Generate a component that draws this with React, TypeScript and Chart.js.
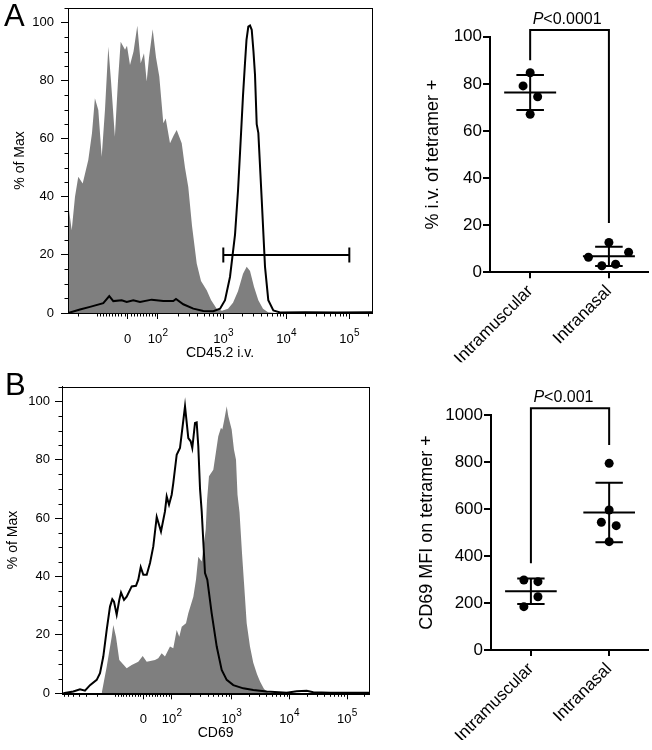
import React, { useEffect, useRef } from "react";
import { Chart, registerables } from "chart.js";

Chart.register(...registerables);

const FONT = "'Liberation Sans', Arial, Helvetica, sans-serif";
const W = 652;
const H = 750;
const GRAY = "#7f7f7f";

// ---------------- Histograms (x = biexponential display position, decades; y = % of Max) ----------------
const HIST_TICK_BASES = ["0", "10", "10", "10", "10"];
const HIST_TICK_EXPONENTS = ["", "2", "3", "4", "5"];
const HIST_Y_TICKS = [0, 20, 40, 60, 80, 100];

// Panel A : CD45.2 i.v.
const A_TICK_POS = [1.48, 1.96, 3, 4, 5];
const A_GRAY_T = [0.535, 0.594, 0.646, 0.698, 0.768, 0.857, 0.916, 0.962, 1.016, 1.07, 1.122, 1.175, 1.217, 1.279, 1.329, 1.371, 1.44, 1.471, 1.519, 1.575, 1.635, 1.689, 1.741, 1.784, 1.821, 1.879, 1.932, 1.984, 2.048, 2.086, 2.154, 2.21, 2.26, 2.34, 2.392, 2.444, 2.503, 2.578, 2.646, 2.737, 2.805, 2.895, 2.979, 3.075, 3.154, 3.233, 3.313, 3.371, 3.424, 3.487, 3.556, 3.63, 3.71, 3.821, 5.36];
const A_GRAY_Y = [38, 28.5, 40, 46.9, 44.6, 52.7, 62, 73.9, 69.9, 53.8, 70, 91.7, 80, 60.7, 80, 93.4, 90.6, 92, 85.4, 90, 98.9, 86, 89.4, 79.7, 88, 97.7, 88, 81.4, 65.3, 67, 58.4, 61, 63, 58.4, 50, 43.4, 30, 17, 11, 7.8, 4.5, 1.5, 0.8, 1.5, 3.5, 7.5, 13.5, 15.9, 14.5, 9, 4.4, 1.5, 0.3, 0, 0];
const A_LINE_T = [0.54, 0.725, 0.884, 1.095, 1.19, 1.254, 1.387, 1.467, 1.571, 1.678, 1.863, 2.048, 2.206, 2.249, 2.365, 2.524, 2.683, 2.841, 2.948, 3.027, 3.106, 3.186, 3.233, 3.265, 3.289, 3.313, 3.344, 3.368, 3.397, 3.424, 3.451, 3.479, 3.503, 3.53, 3.556, 3.61, 3.662, 3.714, 3.794, 3.9, 4.3, 4.8, 5.36];
const A_LINE_Y = [0, 1.2, 2.1, 3.4, 5.8, 4.1, 4.4, 3.8, 4.4, 3.8, 4.6, 4.1, 4.1, 4.8, 3.0, 1.5, 0.7, 0.6, 1.5, 4.4, 12.4, 27, 42, 55, 65, 75, 86, 94, 98.6, 99, 97.5, 90, 82, 65, 62, 38.9, 15.9, 4.4, 0.9, 0.2, 0.3, 0.2, 0.3];
const A_GATE_RANGE = [3, 5];
const A_GATE_LEVEL = 20;

// Panel B : CD69
const B_TICK_POS = [1.473, 1.964, 3, 4, 5];
const B_GRAY_T = [0.752, 0.839, 0.926, 0.953, 1.0, 1.057, 1.185, 1.272, 1.386, 1.462, 1.532, 1.675, 1.732, 1.791, 1.848, 1.935, 1.992, 2.051, 2.096, 2.138, 2.212, 2.252, 2.339, 2.385, 2.425, 2.484, 2.553, 2.576, 2.61, 2.685, 2.771, 2.818, 2.841, 2.875, 2.917, 2.945, 3.003, 3.043, 3.078, 3.104, 3.139, 3.182, 3.216, 3.263, 3.32, 3.377, 3.442, 3.494, 3.563, 3.632, 3.701, 5.386];
const B_GRAY_Y = [0, 9.1, 19.4, 23.4, 19.4, 11.4, 8.6, 9.7, 10.8, 12.8, 10.8, 11.4, 12, 13.7, 12.6, 16, 15.4, 21.7, 19.4, 22.8, 24, 27.4, 33.1, 38.9, 46.8, 45.1, 56, 66, 74.3, 76.6, 88, 90.9, 90.3, 93.7, 98.3, 94.9, 90.3, 83.4, 80, 68, 62, 48, 38, 24, 16, 10.5, 6.5, 4, 1.5, 0.3, 0, 0];
const B_LINE_T = [0.087, 0.261, 0.377, 0.463, 0.55, 0.666, 0.723, 0.78, 0.839, 0.896, 0.936, 0.965, 1.012, 1.057, 1.087, 1.139, 1.185, 1.272, 1.346, 1.386, 1.428, 1.473, 1.532, 1.589, 1.646, 1.705, 1.745, 1.779, 1.848, 1.878, 1.918, 1.964, 1.992, 2.051, 2.108, 2.195, 2.252, 2.293, 2.321, 2.368, 2.397, 2.425, 2.455, 2.484, 2.541, 2.581, 2.657, 2.744, 2.83, 2.917, 3.031, 3.204, 3.377, 3.61, 3.956, 4.129, 4.302, 4.416, 4.706, 5.386];
const B_LINE_Y = [0, 0.6, 1.4, 0.9, 2.8, 4.6, 6.9, 12.6, 21.7, 29.7, 32.2, 31.4, 26.9, 32, 34.5, 32, 33.1, 36.6, 36.8, 38.9, 43.2, 40.6, 40.6, 44.6, 50.3, 60.4, 57.7, 55.4, 62.3, 67.4, 64.6, 68, 72, 81.7, 84, 98.3, 87.4, 86.3, 84, 92.6, 92.8, 84.6, 70, 62.3, 41.2, 38.9, 27.4, 16, 8, 4.6, 2.8, 1.7, 1.1, 0.6, 0.2, 0.7, 0.9, 0.4, 0.2, 0.2];

// ---------------- Dot plots ----------------
const CATEGORIES = ["Intramuscular", "Intranasal"];
// Panel A : % i.v. of tetramer +
const A_IM = [84.7, 79.1, 74.5, 67.1];
const A_IM_JITTER = [0, -0.09, 0.095, 0];
const A_IN = [12.7, 6.4, 8.5, 2.8, 3.4];
const A_IN_JITTER = [0, -0.26, 0.25, -0.09, 0.085];
const A_DOT_TICKS = [0, 20, 40, 60, 80, 100];
const A_BRACKET = [90, 102.8, 20.9]; // left leg end, bar, right leg end
const A_P = "<0.0001";
// Panel B : CD69 MFI on tetramer +
const B_IM = [297.9, 290.8, 226.8, 184.3];
const B_IM_JITTER = [-0.09, 0.09, 0.09, -0.09];
const B_IN = [794.3, 595.7, 543.4, 529, 460.9];
const B_IN_JITTER = [0, 0, -0.1, 0.09, 0];
const B_DOT_TICKS = [0, 200, 400, 600, 800, 1000];
const B_BRACKET = [369, 1028.5, 872];
const B_P = "<0.001";

// ---------------- helpers ----------------
function histMinorX(tickPos: number[], min: number, max: number) {
  const z = tickPos[0];
  const h = tickPos[1];
  const out: number[] = [];
  for (let k = -9; k <= 9; k++) if (k !== 0) out.push(z + (k * (h - z)) / 10);
  for (let m = 2; m <= 9; m++) out.push(h + (3 - h) * Math.log10(m));
  for (let m = 1; m <= 9; m++) out.push(z - (h - z) - (3 - h) * Math.log10(m));
  for (const d of [3, 4, 5]) for (let m = 2; m <= 9; m++) out.push(d + Math.log10(m));
  return out.filter((t) => t > min + 0.01 && t < max - 0.01);
}
const HIST_Y_MINOR = [5, 10, 15, 25, 30, 35, 45, 50, 55, 65, 70, 75, 85, 90, 95, 105];

function mean(v: number[]) {
  return v.reduce((a, b) => a + b, 0) / v.length;
}
function sd(v: number[]) {
  const m = mean(v);
  return Math.sqrt(v.reduce((a, b) => a + (b - m) * (b - m), 0) / (v.length - 1));
}
const MEAN_HALF = 0.33;
const CAP_HALF = 0.175;
function summarySegments(c: number, vals: number[]) {
  const m = mean(vals);
  const s = sd(vals);
  return [
    { x: c - MEAN_HALF, y: m }, { x: c + MEAN_HALF, y: m }, { x: c, y: null },
    { x: c, y: m - s }, { x: c, y: m + s }, { x: c, y: null },
    { x: c - CAP_HALF, y: m + s }, { x: c + CAP_HALF, y: m + s }, { x: c, y: null },
    { x: c - CAP_HALF, y: m - s }, { x: c + CAP_HALF, y: m - s }, { x: c, y: null },
  ];
}

const HIST_TITLE = 14;
const HIST_TICK = 13;
const HIST_X_AXIS_H = 48.5;

function histConfig(s: any): any {
  const padL = s.yTitleX - (HIST_TITLE * 1.2) / 2;
  const decor = {
    id: "histDecor" + s.letter,
    afterDatasetsDraw(chart: any) {
      const { ctx, chartArea: a, scales } = chart;
      const x = scales.x;
      const y = scales.y;
      ctx.save();
      ctx.strokeStyle = "#000";
      ctx.lineWidth = 1;
      ctx.strokeRect(Math.round(a.left) + 0.5, Math.round(a.top) + 0.5, Math.round(a.right - a.left), Math.round(a.bottom - a.top));
      ctx.beginPath();
      for (const v of HIST_Y_MINOR) {
        const py = Math.round(y.getPixelForValue(v)) + 0.5;
        ctx.moveTo(a.left - 3.5, py);
        ctx.lineTo(a.left, py);
      }
      for (const t of histMinorX(s.tickPos, s.xMin, s.xMax)) {
        const px = Math.round(x.getPixelForValue(t)) + 0.5;
        ctx.moveTo(px, a.bottom);
        ctx.lineTo(px, a.bottom + 3.5);
      }
      ctx.stroke();
      if (s.gate) {
        const gy = y.getPixelForValue(s.gateLevel);
        const x1 = x.getPixelForValue(s.gate[0]);
        const x2 = x.getPixelForValue(s.gate[1]);
        ctx.lineWidth = 2;
        ctx.beginPath();
        ctx.moveTo(x1, gy);
        ctx.lineTo(x2, gy);
        ctx.moveTo(x1, gy - 7.5);
        ctx.lineTo(x1, gy + 7.5);
        ctx.moveTo(x2, gy - 7.5);
        ctx.lineTo(x2, gy + 7.5);
        ctx.stroke();
      }
      // x tick labels with superscript exponents
      ctx.fillStyle = "#000";
      ctx.textAlign = "left";
      ctx.textBaseline = "alphabetic";
      const base = a.bottom + 30;
      s.tickPos.forEach((t: number, i: number) => {
        const px = x.getPixelForValue(t);
        ctx.font = `${HIST_TICK}px ${FONT}`;
        const wb = ctx.measureText(HIST_TICK_BASES[i]).width;
        ctx.font = `10px ${FONT}`;
        const we = HIST_TICK_EXPONENTS[i] ? ctx.measureText(HIST_TICK_EXPONENTS[i]).width : 0;
        const x0 = px - (wb + we) / 2;
        ctx.font = `${HIST_TICK}px ${FONT}`;
        ctx.fillText(HIST_TICK_BASES[i], x0, base);
        if (we) {
          ctx.font = `10px ${FONT}`;
          ctx.fillText(HIST_TICK_EXPONENTS[i], x0 + wb + 0.3, base - 7.5);
        }
      });
      ctx.font = `31px ${FONT}`;
      ctx.fillText(s.letter, s.letterX, s.letterY);
      ctx.restore();
    },
  };
  return {
    type: "line",
    data: {
      datasets: [
        {
          data: s.lineT.map((t: number, i: number) => ({ x: t, y: s.lineY[i] })),
          borderColor: "#000",
          borderWidth: 2,
          pointRadius: 0,
          fill: false,
          tension: 0,
        },
        {
          data: s.grayT.map((t: number, i: number) => ({ x: t, y: s.grayY[i] })),
          borderColor: GRAY,
          borderWidth: 0,
          backgroundColor: GRAY,
          pointRadius: 0,
          fill: "origin",
          tension: 0,
        },
      ],
    },
    options: {
      responsive: false,
      animation: false,
      devicePixelRatio: 1,
      events: [],
      layout: {
        padding: { left: padL, top: s.area.top, right: W - s.area.right, bottom: H - s.area.bottom - HIST_X_AXIS_H },
      },
      plugins: { legend: { display: false }, tooltip: { enabled: false } },
      scales: {
        x: {
          type: "linear",
          min: s.xMin,
          max: s.xMax,
          afterBuildTicks: (sc: any) => {
            sc.ticks = s.tickPos.map((v: number) => ({ value: v }));
          },
          afterFit: (sc: any) => {
            sc.height = HIST_X_AXIS_H;
            sc.paddingLeft = 0;
            sc.paddingRight = 0;
          },
          ticks: {
            display: false,
            autoSkip: false,
            maxRotation: 0,
            minRotation: 0,
          },
          grid: { drawOnChartArea: false, drawTicks: true, tickLength: 6, color: "#000", lineWidth: 1 },
          border: { display: true, color: "#000", width: 1 },
          title: { display: true, text: s.xTitle, color: "#000", font: { family: FONT, size: HIST_TITLE }, padding: 0 },
        },
        y: {
          type: "linear",
          min: 0,
          max: 105,
          afterBuildTicks: (sc: any) => {
            sc.ticks = HIST_Y_TICKS.map((v) => ({ value: v }));
          },
          afterFit: (sc: any) => {
            sc.width = s.area.left - padL;
            sc.paddingTop = 0;
            sc.paddingBottom = 0;
          },
          ticks: { padding: s.yTickPad, color: "#000", font: { family: FONT, size: HIST_TICK } },
          grid: { drawOnChartArea: false, drawTicks: true, tickLength: 7, color: "#000", lineWidth: 1 },
          border: { display: true, color: "#000", width: 1 },
          title: { display: true, text: "% of Max", color: "#000", font: { family: FONT, size: HIST_TITLE }, padding: 0 },
        },
      },
    },
    plugins: [decor],
  };
}

const DOT_TITLE = 18;
const DOT_TICK = 17;
const DOT_X_AXIS_H = 90;

function dotConfig(s: any): any {
  const padL = s.yTitleX - (DOT_TITLE * 1.2) / 2;
  const groups = [s.im, s.inn];
  const jit = [s.imJit, s.inJit];
  const points = groups.flatMap((vals: number[], c: number) => vals.map((v, i) => ({ x: c + jit[c][i], y: v })));
  const summary = groups.flatMap((vals: number[], c: number) => summarySegments(c, vals));
  const bracket = {
    id: "bracket" + s.p,
    afterDatasetsDraw(chart: any) {
      const { ctx, scales } = chart;
      const x = scales.x;
      const y = scales.y;
      const xl = x.getPixelForValue(0);
      const xr = x.getPixelForValue(1);
      const yt = y.getPixelForValue(s.bracket[1]);
      ctx.save();
      ctx.strokeStyle = "#000";
      ctx.lineWidth = 2;
      ctx.lineJoin = "miter";
      ctx.beginPath();
      ctx.moveTo(xl, y.getPixelForValue(s.bracket[0]));
      ctx.lineTo(xl, yt);
      ctx.lineTo(xr, yt);
      ctx.lineTo(xr, y.getPixelForValue(s.bracket[2]));
      ctx.stroke();
      ctx.fillStyle = "#000";
      ctx.textBaseline = "alphabetic";
      ctx.textAlign = "left";
      const tx = xl + 2.5;
      const ty = yt - 6.5;
      ctx.font = `italic 16px ${FONT}`;
      ctx.fillText("P", tx, ty);
      const w = ctx.measureText("P").width;
      ctx.font = `16px ${FONT}`;
      ctx.fillText(s.p, tx + w, ty);
      ctx.restore();
    },
  };
  return {
    type: "scatter",
    data: {
      datasets: [
        {
          type: "scatter",
          data: points,
          pointRadius: 4.5,
          pointBackgroundColor: "#000",
          pointBorderWidth: 0,
          pointBorderColor: "#000",
        },
        {
          type: "line",
          data: summary,
          borderColor: "#000",
          borderWidth: 2,
          pointRadius: 0,
          spanGaps: false,
          fill: false,
          tension: 0,
        },
      ],
    },
    options: {
      responsive: false,
      animation: false,
      devicePixelRatio: 1,
      events: [],
      layout: {
        padding: { left: padL, top: s.area.top, right: W - s.area.right, bottom: H - s.area.bottom - DOT_X_AXIS_H },
      },
      plugins: { legend: { display: false }, tooltip: { enabled: false } },
      scales: {
        x: {
          type: "linear",
          min: -0.51,
          max: 1.49,
          afterBuildTicks: (sc: any) => {
            sc.ticks = CATEGORIES.map((_c, i) => ({ value: i }));
          },
          afterFit: (sc: any) => {
            sc.height = DOT_X_AXIS_H;
            sc.paddingLeft = 0;
            sc.paddingRight = 0;
          },
          ticks: {
            autoSkip: false,
            maxRotation: 45,
            minRotation: 45,
            padding: 3,
            color: "#000",
            font: { family: FONT, size: DOT_TICK },
            callback: (_v: any, i: number) => CATEGORIES[i],
          },
          grid: { drawOnChartArea: false, drawTicks: true, tickLength: 6, color: "#000", lineWidth: 2 },
          border: { display: true, color: "#000", width: 2 },
        },
        y: {
          type: "linear",
          min: 0,
          max: s.yTicks[s.yTicks.length - 1],
          afterBuildTicks: (sc: any) => {
            sc.ticks = s.yTicks.map((v: number) => ({ value: v }));
          },
          afterFit: (sc: any) => {
            sc.width = s.area.left - padL;
            sc.paddingTop = 0;
            sc.paddingBottom = 0;
          },
          ticks: {
            padding: 1,
            color: "#000",
            font: { family: FONT, size: DOT_TICK },
            callback: (v: any) => String(v),
          },
          grid: { drawOnChartArea: false, drawTicks: true, tickLength: 7, color: "#000", lineWidth: 2 },
          border: { display: true, color: "#000", width: 2 },
          title: { display: true, text: s.yTitle, color: "#000", font: { family: FONT, size: DOT_TITLE }, padding: 0 },
        },
      },
    },
    plugins: [bracket],
  };
}

const HIST_A = {
  grayT: A_GRAY_T, grayY: A_GRAY_Y, lineT: A_LINE_T, lineY: A_LINE_Y,
  xMin: 0.535, xMax: 5.36, tickPos: A_TICK_POS, xTitle: "CD45.2 i.v.",
  letter: "A", letterX: 4, letterY: 26, yTitleX: 20, yTickPad: 7,
  area: { left: 68, right: 372, top: 8, bottom: 313 },
  gate: A_GATE_RANGE, gateLevel: A_GATE_LEVEL,
};
const HIST_B = {
  grayT: B_GRAY_T, grayY: B_GRAY_Y, lineT: B_LINE_T, lineY: B_LINE_Y,
  xMin: 0.065, xMax: 5.386, tickPos: B_TICK_POS, xTitle: "CD69",
  letter: "B", letterX: 5, letterY: 395, yTitleX: 13.3, yTickPad: 5,
  area: { left: 62, right: 369.3, top: 386.7, bottom: 693.3 },
  gate: null, gateLevel: 0,
};
const DOT_A = {
  im: A_IM, imJit: A_IM_JITTER, inn: A_IN, inJit: A_IN_JITTER, yTicks: A_DOT_TICKS,
  yTitle: "% i.v. of tetramer +", yTitleX: 433, bracket: A_BRACKET, p: A_P,
  area: { left: 490, right: 648, top: 36.7, bottom: 272.3 },
};
const DOT_B = {
  im: B_IM, imJit: B_IM_JITTER, inn: B_IN, inJit: B_IN_JITTER, yTicks: B_DOT_TICKS,
  yTitle: "CD69 MFI on tetramer +", yTitleX: 426.7, bracket: B_BRACKET, p: B_P,
  area: { left: 491, right: 648, top: 415, bottom: 650 },
};

export default function App() {
  const r1 = useRef<HTMLCanvasElement>(null);
  const r2 = useRef<HTMLCanvasElement>(null);
  const r3 = useRef<HTMLCanvasElement>(null);
  const r4 = useRef<HTMLCanvasElement>(null);
  useEffect(() => {
    Chart.defaults.font.family = FONT;
    Chart.defaults.color = "#000";
    const charts = [
      new Chart(r1.current as HTMLCanvasElement, histConfig(HIST_A)),
      new Chart(r2.current as HTMLCanvasElement, dotConfig(DOT_A)),
      new Chart(r3.current as HTMLCanvasElement, histConfig(HIST_B)),
      new Chart(r4.current as HTMLCanvasElement, dotConfig(DOT_B)),
    ];
    return () => charts.forEach((c) => c.destroy());
  }, []);
  const st: React.CSSProperties = { position: "absolute", left: 0, top: 0, width: W, height: H };
  return (
    <div style={{ position: "fixed", left: 0, top: 0, width: W, height: H, background: "#fff" }}>
      <canvas ref={r1} width={W} height={H} style={st} />
      <canvas ref={r2} width={W} height={H} style={st} />
      <canvas ref={r3} width={W} height={H} style={st} />
      <canvas ref={r4} width={W} height={H} style={st} />
    </div>
  );
}
